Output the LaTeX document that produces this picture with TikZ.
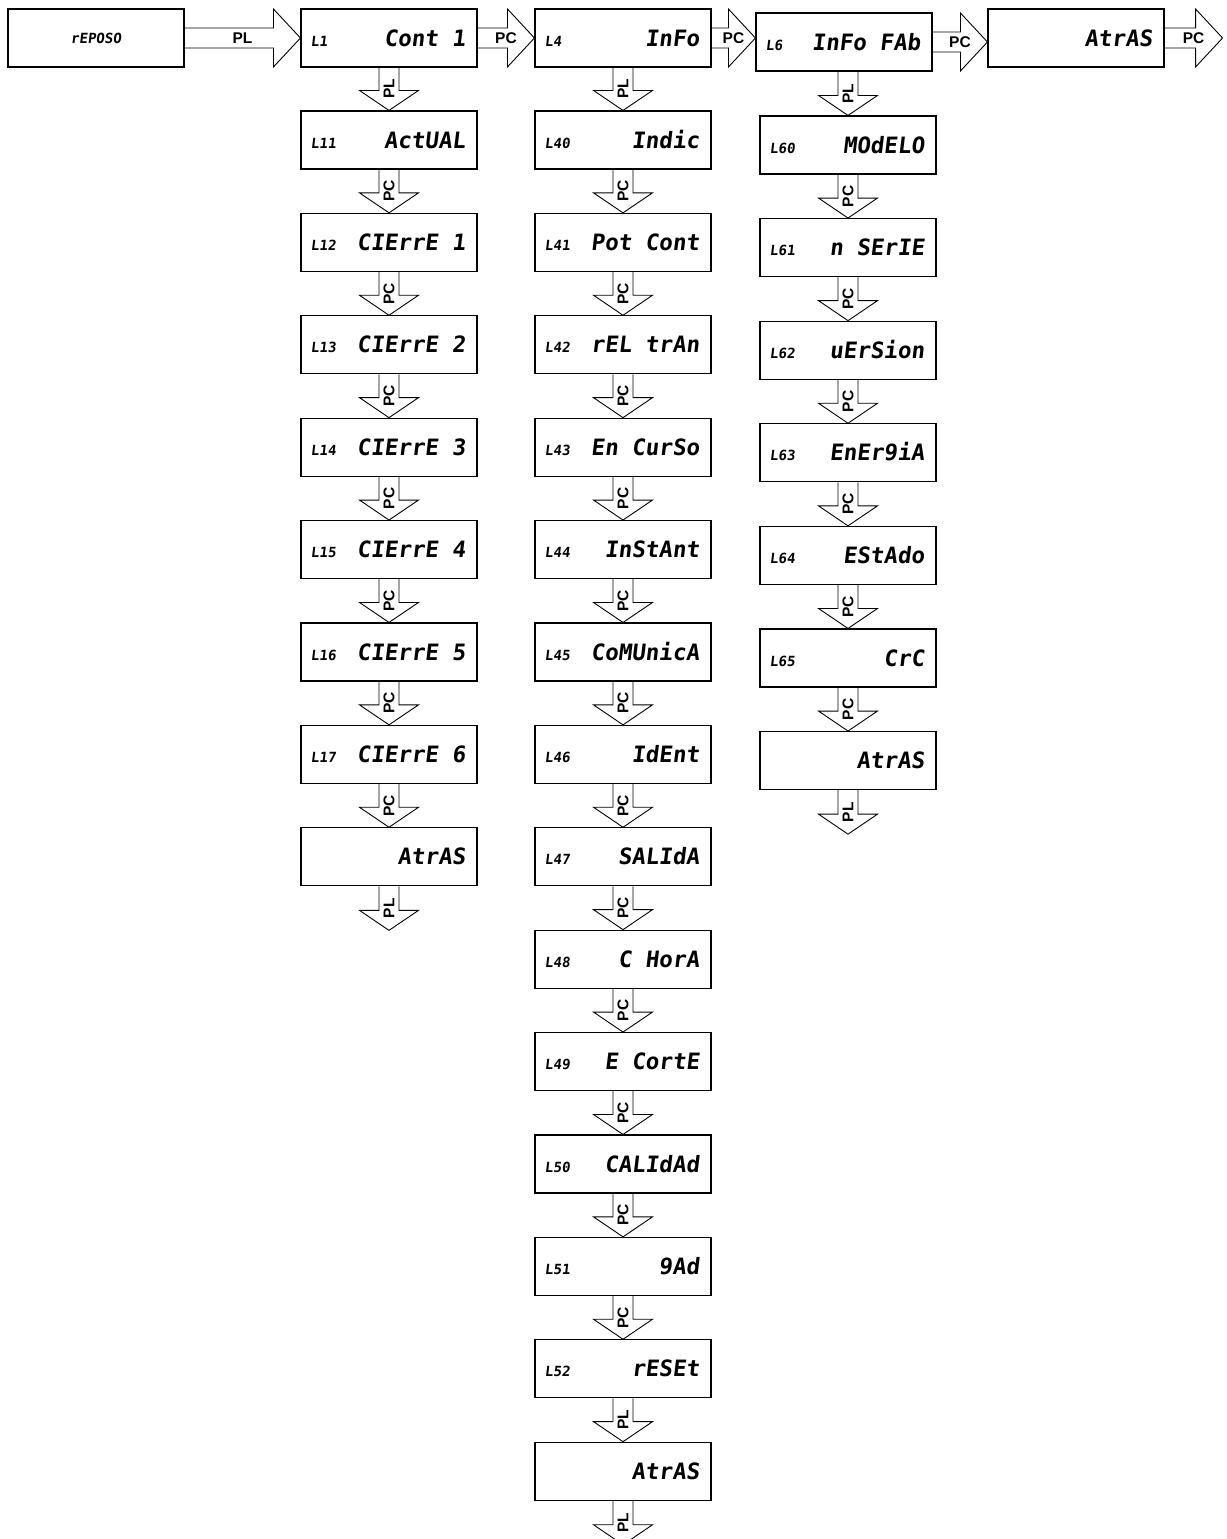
\documentclass[tikz,border=0pt]{standalone}
\usepackage{fontspec}
\setmainfont{Liberation Sans}
\newfontfamily\segfont[FakeSlant=0.12,UprightFont=* Bold]{DejaVu Sans Mono}
\usetikzlibrary{calc}

% a menu screen: box, short code at the left, display text at the right
\newcommand\screen[5]{%
  \node[panel] (#1) at (#2,#3) {};
  \node[code] (#1-code) at ($(#1.west)+(10,8)$) {#4};
  \node[disp] (#1-text) at ($(#1.east)+(-12,8)$) {#5};
}
% a screen showing only display text
\newcommand\backscreen[4]{%
  \node[panel] (#1) at (#2,#3) {};
  \node[disp] (#1-text) at ($(#1.east)+(-12,8)$) {#4};
}
% hollow block arrow pointing down, from a node's bottom to a tip point
\newcommand\downflow[3]{%
  \draw[flow] ($(#2 |- #1.south)+(-10,0)$) -- ($(#2)+(-10,-20)$)
    -- ($(#2)+(-29.5,-20)$) -- (#2) -- ($(#2)+(29.5,-20)$)
    -- ($(#2)+(10,-20)$) -- ($(#2 |- #1.south)+(10,0)$);
  \node[flowlabel,rotate=90] at ($(#2 |- #1.south)!0.5!(#2)$) {#3};
}
% hollow block arrow pointing right, from a node's right side to a tip point
\newcommand\rightflow[3]{%
  \draw[flow] ($(#1.east)+(0,-10)$) -- ($(#2 |- #1.east)+(-27,-10)$)
    -- ($(#2 |- #1.east)+(-27,-29)$) -- (#2 |- #1.east)
    -- ($(#2 |- #1.east)+(-27,29)$) -- ($(#2 |- #1.east)+(-27,10)$)
    -- ($(#1.east)+(0,10)$);
  \node[flowlabel] at ($(#1.east)!0.5!(#2 |- #1.east)$) {#3};
}

\begin{document}
\begin{tikzpicture}[x=1pt,y=-1pt,
  panel/.style={draw, line width=1.1pt, minimum width=176pt, minimum height=58pt, inner sep=0pt},
  code/.style={font=\segfont\fontsize{14}{15}\selectfont, anchor=base west, inner sep=0pt},
  disp/.style={font=\segfont\fontsize{22.5}{24}\selectfont, anchor=base east, inner sep=0pt},
  flow/.style={draw, line width=0.9pt, line join=miter},
  flowlabel/.style={font=\bfseries\fontsize{15.5}{16}\selectfont, inner sep=0pt}]
\useasboundingbox (0,0) rectangle (1226,1539);

% top row
\node[panel, font=\segfont\fontsize{14}{15}\selectfont] (reposo) at (96,38) {rEPOSO};
\screen{l1}{389}{38}{L1}{Cont 1}
\screen{l4}{623}{38}{L4}{InFo}
\screen{l6}{844}{42}{L6}{InFo FAb}
\backscreen{atrasT}{1076}{38}{AtrAS}
\coordinate (endT) at ($(atrasT.east)+(58,0)$);

\rightflow{reposo}{l1.west}{PL}
\rightflow{l1}{l4.west}{PC}
\rightflow{l4}{l6.west}{PC}
\rightflow{l6}{atrasT.west}{PC}
\rightflow{atrasT}{endT}{PC}

% column under Cont 1
\screen{l11}{389}{140}{L11}{ActUAL}
\screen{l12}{389}{242.4}{L12}{CIErrE 1}
\screen{l13}{389}{344.8}{L13}{CIErrE 2}
\screen{l14}{389}{447.2}{L14}{CIErrE 3}
\screen{l15}{389}{549.6}{L15}{CIErrE 4}
\screen{l16}{389}{652}{L16}{CIErrE 5}
\screen{l17}{389}{754.4}{L17}{CIErrE 6}
\backscreen{atrasA}{389}{856.8}{AtrAS}
\coordinate (endA) at ($(atrasA.south)+(0,44)$);

\downflow{l1}{l11.north}{PL}
\downflow{l11}{l12.north}{PC}
\downflow{l12}{l13.north}{PC}
\downflow{l13}{l14.north}{PC}
\downflow{l14}{l15.north}{PC}
\downflow{l15}{l16.north}{PC}
\downflow{l16}{l17.north}{PC}
\downflow{l17}{atrasA.north}{PC}
\downflow{atrasA}{endA}{PL}

% column under InFo
\screen{l40}{623}{140}{L40}{Indic}
\screen{l41}{623}{242.4}{L41}{Pot Cont}
\screen{l42}{623}{344.8}{L42}{rEL trAn}
\screen{l43}{623}{447.2}{L43}{En CurSo}
\screen{l44}{623}{549.6}{L44}{InStAnt}
\screen{l45}{623}{652}{L45}{CoMUnicA}
\screen{l46}{623}{754.4}{L46}{IdEnt}
\screen{l47}{623}{856.8}{L47}{SALIdA}
\screen{l48}{623}{959.2}{L48}{C HorA}
\screen{l49}{623}{1061.6}{L49}{E CortE}
\screen{l50}{623}{1164}{L50}{CALIdAd}
\screen{l51}{623}{1266.4}{L51}{9Ad}
\screen{l52}{623}{1368.8}{L52}{rESEt}
\backscreen{atrasB}{623}{1471.2}{AtrAS}
\coordinate (endB) at ($(atrasB.south)+(0,44)$);

\downflow{l4}{l40.north}{PL}
\downflow{l40}{l41.north}{PC}
\downflow{l41}{l42.north}{PC}
\downflow{l42}{l43.north}{PC}
\downflow{l43}{l44.north}{PC}
\downflow{l44}{l45.north}{PC}
\downflow{l45}{l46.north}{PC}
\downflow{l46}{l47.north}{PC}
\downflow{l47}{l48.north}{PC}
\downflow{l48}{l49.north}{PC}
\downflow{l49}{l50.north}{PC}
\downflow{l50}{l51.north}{PC}
\downflow{l51}{l52.north}{PC}
\downflow{l52}{atrasB.north}{PL}
\downflow{atrasB}{endB}{PL}

% column under InFo FAb
\screen{l60}{848}{145}{L60}{MOdELO}
\screen{l61}{848}{247.6}{L61}{n SErIE}
\screen{l62}{848}{350.2}{L62}{uErSion}
\screen{l63}{848}{452.8}{L63}{EnEr9iA}
\screen{l64}{848}{555.4}{L64}{EStAdo}
\screen{l65}{848}{658}{L65}{CrC}
\backscreen{atrasC}{848}{760.6}{AtrAS}
\coordinate (endC) at ($(atrasC.south)+(0,44)$);

\downflow{l6}{l60.north}{PL}
\downflow{l60}{l61.north}{PC}
\downflow{l61}{l62.north}{PC}
\downflow{l62}{l63.north}{PC}
\downflow{l63}{l64.north}{PC}
\downflow{l64}{l65.north}{PC}
\downflow{l65}{atrasC.north}{PC}
\downflow{atrasC}{endC}{PL}
\end{tikzpicture}
\end{document}
